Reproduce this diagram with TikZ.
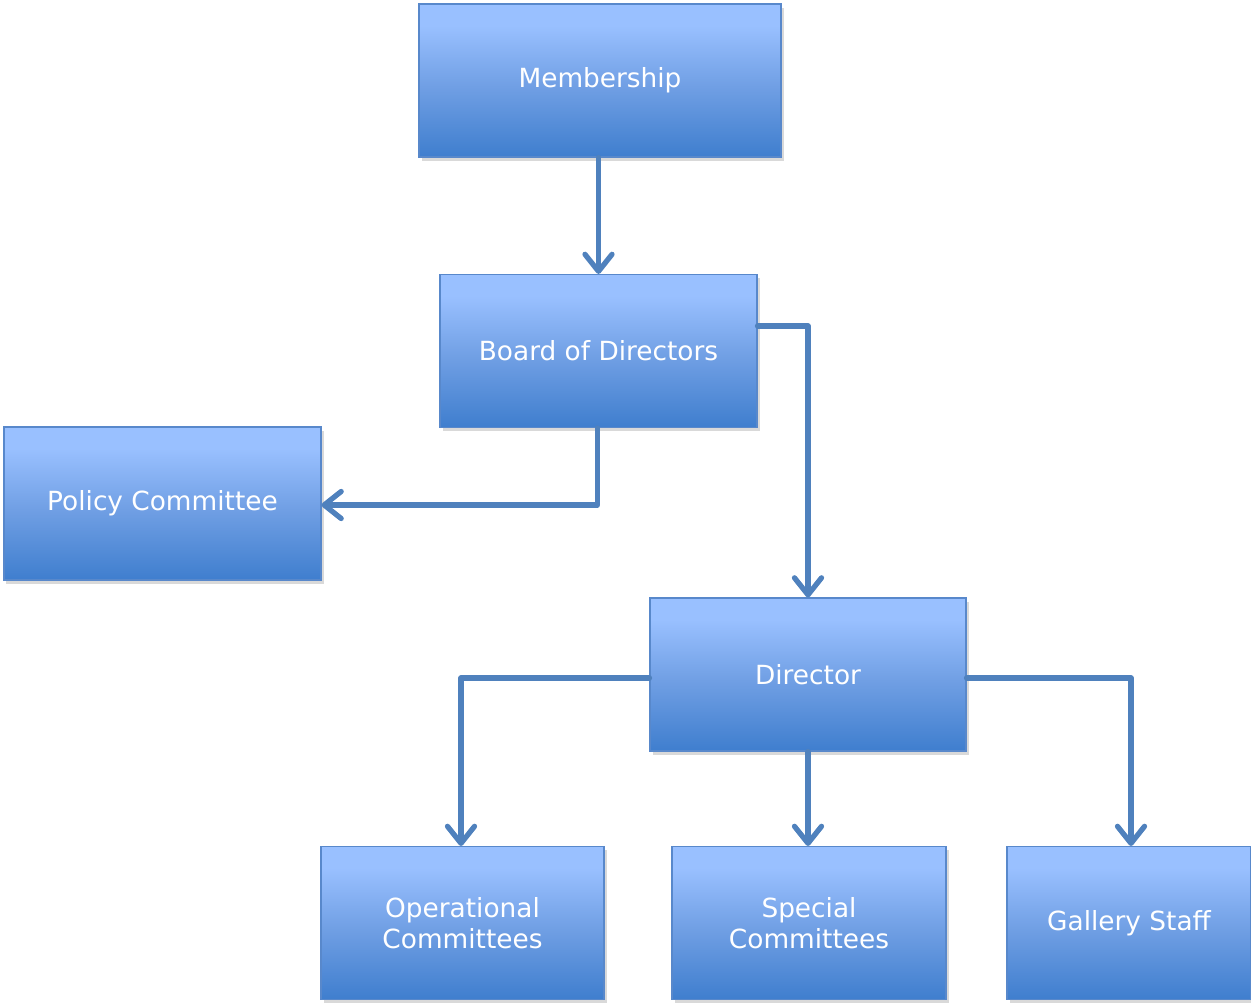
\documentclass[tikz,border=0pt]{standalone}
\usepackage{fontspec}
\setmainfont{DejaVu Sans}
\usepackage{tikz}
\usetikzlibrary{positioning, arrows.meta, shadows}
\definecolor{boxtop}{RGB}{153,192,255}
\definecolor{boxmid}{RGB}{112,159,228}
\definecolor{boxbot}{RGB}{63,126,206}
\definecolor{boxline}{RGB}{88,136,203}
\definecolor{linkcol}{RGB}{79,129,189}
\pgfdeclareverticalshading{boxgrad}{100bp}{color(0bp)=(boxbot); color(25bp)=(boxbot); color(48bp)=(boxmid); color(68bp)=(boxtop); color(100bp)=(boxtop)}
\tikzset{
	orgbox/.append style={
		draw=boxline,
		line width=0.6pt,
		shading=boxgrad,
		text=white,
		align = center,
		minimum height=30.6mm,
		inner sep=1mm,
		font={\fontsize{15}{18}\selectfont},
		drop shadow={opacity=0.3, shadow xshift=0.5mm, shadow yshift=-0.7mm},
	},
	link/.append style={
		draw=linkcol,
		line width=3pt,
		line cap=round,
		line join=round,
		-{Straight Barb[length=3.4mm, width=5.4mm, line width=3pt, round]},
	}
}

\begin{document}
\begin{tikzpicture}[]

\useasboundingbox (0,0) rectangle (25.02,-20.06);

\node(mem)[orgbox, minimum width=72.4mm] at (12.00,-1.61) {Membership};
\node(bod)[orgbox, minimum width=63.4mm] at (11.97,-7.02) {Board of Directors};
\node(pol)[orgbox, minimum width=63.4mm] at (3.25,-10.07) {Policy Committee};
\node(dir)[orgbox, minimum width=63.2mm] at (16.16,-13.49) {Director};

\node(ops)[orgbox, minimum width=56.6mm] at (9.25,-18.46) {Operational\\Committees};
\node(spc)[orgbox, minimum width=54.8mm] at (16.18,-18.46) {Special\\Committees};
\node(gal)[orgbox, minimum width=48.8mm] at (22.58,-18.46) {Gallery Staff};


\draw[link] (mem.south -| bod.north) -- (bod.north);
\draw[link] ([yshift=5mm]bod.east) -| (dir.north);
\draw[link] ([xshift=-0.2mm]bod.south) |- ([yshift=-0.3mm]pol.east);

\draw[link] ([yshift=-0.7mm]dir.west) -| ([xshift=-0.3mm]ops.north);
\draw[link] (dir.south) -- (dir.south |- spc.north);
\draw[link] ([yshift=-0.7mm]dir.east) -| ([xshift=0.4mm]gal.north);

\end{tikzpicture}
\end{document}
